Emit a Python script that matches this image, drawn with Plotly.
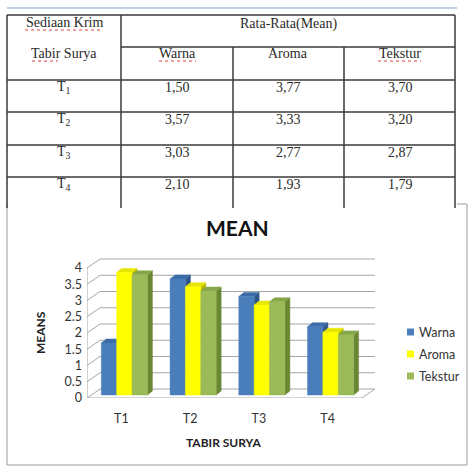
import plotly.graph_objects as go

W = H = 471

# ---------------- table data ----------------
table_rows = ["T<sub>1</sub>", "T<sub>2</sub>", "T<sub>3</sub>", "T<sub>4</sub>"]
table_cols = ["Warna", "Aroma", "Tekstur"]
tbl_warna = ["1,50", "3,57", "3,03", "2,10"]
tbl_aroma = ["3,77", "3,33", "2,77", "1,93"]
tbl_tekstur = ["3,70", "3,20", "2,87", "1,79"]

# ---------------- chart data ----------------
categories = ["T1", "T2", "T3", "T4"]
series_names = ["Warna", "Aroma", "Tekstur"]
warna = [1.60, 3.57, 3.03, 2.10]
aroma = [3.77, 3.33, 2.77, 1.93]
tekstur = [3.70, 3.20, 2.87, 1.85]
y_ticks = [0, 0.5, 1, 1.5, 2, 2.5, 3, 3.5, 4]

series_values = [warna, aroma, tekstur]
front_colors = ["#4A7EBB", "#FFFF00", "#9BBB59"]
top_colors = ["#3C6CA8", "#E6E600", "#86A64A"]
side_colors = ["#2F5789", "#B8B800", "#6A8734"]

# ---------------- geometry ----------------
PL, PR, PT, PB = 87, 375, 255, 398
XR = [-0.5, 3.69]
YR = [0, 4.4]
xppu = (PR - PL) / (XR[1] - XR[0])
yppu = (PB - PT) / (YR[1] - YR[0])


def ux(p):
    return p / xppu


def uy(p):
    return p / yppu


def px(x):
    return x / W


def py(y):
    return 1 - y / H


WDX, WDY = ux(13), uy(9)      # back wall depth
BSX, BSY = ux(3), uy(3)       # bar front-face offset
BDX, BDY = ux(5), uy(4)       # bar depth
GROUP = 0.67
BW = GROUP / 3

fig = go.Figure()

# walls / floor
wx, wy = [], []
for t in y_ticks:
    wx += [-0.5, -0.5 + WDX, 3.5 + WDX, None]
    wy += [t, t + WDY, t + WDY, None]
wx += [-0.5, -0.5, None, -0.5, 3.5, 3.5 + WDX, None]
wy += [0, 4, None, 0, 0, WDY, None]
fig.add_trace(go.Scatter(x=wx, y=wy, mode="lines",
                         line=dict(color="#A6A6A6", width=1),
                         hoverinfo="skip", showlegend=False))

# 3D bars
for s, vals in enumerate(series_values):
    sx, sy, tx, ty, fx, fy = [], [], [], [], [], []
    for i, v in enumerate(vals):
        l = i - GROUP / 2 + s * BW + BSX
        r = l + BW
        b = BSY
        t = BSY + v
        sx += [r, r + BDX, r + BDX, r, r, None]
        sy += [b, b + BDY, t + BDY, t, b, None]
        tx += [l, l + BDX, r + BDX, r, l, None]
        ty += [t, t + BDY, t + BDY, t, t, None]
        fx += [l, r, r, l, l, None]
        fy += [b, b, t, t, b, None]
    for xs, ys, c in ((sx, sy, side_colors[s]), (tx, ty, top_colors[s]),
                      (fx, fy, front_colors[s])):
        fig.add_trace(go.Scatter(x=xs, y=ys, mode="lines", fill="toself",
                                 fillcolor=c, line=dict(color=c, width=0.5),
                                 hoverinfo="skip", showlegend=False))

shapes = []


def line(x0, y0, x1, y1, color, width):
    shapes.append(dict(type="line", xref="paper", yref="paper",
                       x0=px(x0), y0=py(y0), x1=px(x1), y1=py(y1),
                       line=dict(color=color, width=width)))


# chart border
CB = "#9A9A9A"
line(7, 204, 7, 465, CB, 1)
line(7, 465, 467, 465, CB, 1)
line(467, 204, 467, 465, CB, 1)
line(457, 204, 467, 204, CB, 1)

# top blue rule
line(7, 8, 457, 8, "#AFC0D6", 1.5)

# table grid
TC = "#3A3A3A"
line(7, 15, 455, 15, TC, 1.5)
line(121, 47, 455, 47, TC, 1.5)
for yy in [80, 112, 145, 177]:
    line(7, yy, 455, yy, TC, 1.5)
line(7, 15, 7, 208, TC, 1.5)
line(121, 15, 121, 208, TC, 1.5)
line(233, 47, 233, 208, TC, 1.5)
line(344, 47, 344, 208, TC, 1.5)
line(455, 15, 455, 208, TC, 1.5)

# red spell-check marks
for (a, b, yy) in [(25, 103, 30), (32, 58, 61), (159, 196, 61), (378, 421, 61)]:
    shapes.append(dict(type="line", xref="paper", yref="paper",
                       x0=px(a), y0=py(yy), x1=px(b), y1=py(yy),
                       line=dict(color="#E04040", width=1, dash="dot")))

annotations = []
SERIF = "Liberation Serif"
SANS = "Lato"


def text(x, y, s, size, family, color="#2A2A2A", bold=False, angle=0,
         anchor="center"):
    if bold:
        s = "<b>" + s + "</b>"
    annotations.append(dict(x=px(x), y=py(y), xref="paper", yref="paper",
                            text=s, showarrow=False, textangle=angle,
                            xanchor=anchor, yanchor="middle",
                            font=dict(size=size, family=family, color=color)))


# table texts
text(64, 23, "Sediaan Krim", 14, SERIF)
text(64, 54, "Tabir Surya", 14, SERIF)
text(289, 24, "Rata-Rata(Mean)", 14, SERIF)
col_cx = [177, 288, 400]
for c, name in enumerate(table_cols):
    text(col_cx[c], 54, name, 14, SERIF)
row_cy = [88, 120, 153, 184]
tbl_cols = [tbl_warna, tbl_aroma, tbl_tekstur]
for r, lab in enumerate(table_rows):
    text(64, row_cy[r], lab, 14, SERIF)
    for c in range(3):
        text(col_cx[c], row_cy[r], tbl_cols[c][r], 14, SERIF)

# chart texts
text(237, 227, "MEAN", 21, SANS, color="#111111", bold=True)
text(40, 333, "MEANS", 12, SANS, color="#222222", bold=True, angle=-90)
text(223, 442, "TABIR SURYA", 12, SANS, color="#222222", bold=True)

# legend (squares + labels)
leg_cy = [332, 354, 376]
for s, name in enumerate(series_names):
    shapes.append(dict(type="rect", xref="paper", yref="paper",
                       x0=px(407), x1=px(414),
                       y0=py(leg_cy[s] - 3.5), y1=py(leg_cy[s] + 3.5),
                       fillcolor=front_colors[s], line=dict(width=0)))
    text(417, leg_cy[s], name, 12.5, SANS, color="#333333", anchor="left")

fig.update_layout(
    width=W, height=H,
    margin=dict(l=0, r=0, t=0, b=0),
    paper_bgcolor="white", plot_bgcolor="rgba(0,0,0,0)",
    shapes=shapes, annotations=annotations,
    showlegend=False,
    xaxis=dict(domain=[px(PL), px(PR)], range=XR, showgrid=False,
               zeroline=False, showline=False, automargin=False,
               tickmode="array", tickvals=[0, 1, 2, 3], ticktext=categories,
               ticks="", ticklabelstandoff=11,
               tickfont=dict(size=12.5, family=SANS, color="#333333"),
               fixedrange=True),
    yaxis=dict(domain=[py(PB), py(PT)], range=YR, showgrid=False,
               zeroline=False, showline=False, automargin=False,
               tickmode="array", tickvals=y_ticks,
               ticktext=[("%g" % t) for t in y_ticks],
               ticks="", ticklabelstandoff=4,
               tickfont=dict(size=12.5, family=SANS, color="#333333"),
               fixedrange=True),
)

fig.write_html("out.html")
